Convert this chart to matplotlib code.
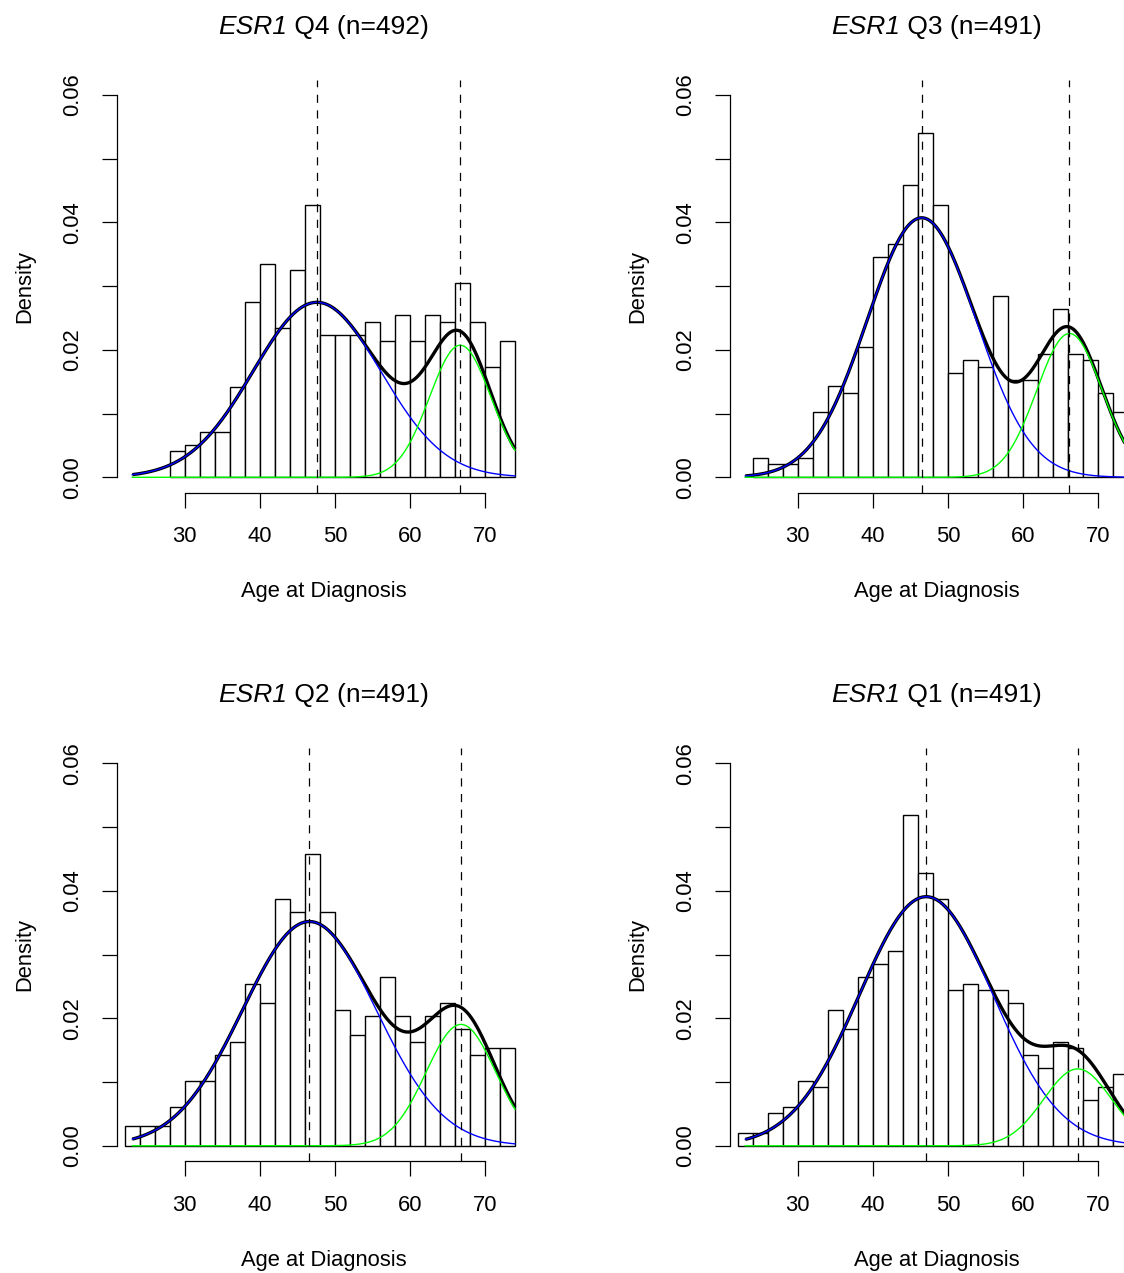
import matplotlib
matplotlib.use('Agg')
import matplotlib.pyplot as plt
from matplotlib.offsetbox import TextArea, HPacker, AnchoredOffsetbox
import numpy as np

plt.rcParams['font.family'] = ['Liberation Sans', 'DejaVu Sans']

# panel titles, in drawing order (top-left, top-right, bottom-left, bottom-right)
gene = 'ESR1'
quartiles = ['Q4', 'Q3', 'Q2', 'Q1']
sizes = [492, 491, 491, 491]

# histogram counts per 2-year bin, and the left edge of the first bin
q4_start = 28
q4_counts = [4, 5, 7, 7, 14, 27, 33, 23, 32, 42, 22, 22, 22, 24, 21, 25, 21, 25, 24, 30, 24, 17, 21]
q3_start = 24
q3_counts = [3, 2, 2, 3, 10, 14, 13, 20, 34, 36, 45, 53, 42, 16, 18, 17, 28, 15, 15, 19, 26, 19, 18, 13, 10]
q2_start = 22
q2_counts = [3, 3, 3, 6, 10, 10, 14, 16, 25, 22, 38, 36, 45, 36, 21, 17, 20, 26, 20, 16, 20, 22, 18, 14, 15, 15]
q1_start = 22
q1_counts = [2, 2, 5, 6, 10, 9, 21, 18, 26, 28, 30, 51, 42, 38, 24, 25, 24, 24, 22, 14, 12, 16, 15, 7, 9, 11]

# mixture components: weight, mean, sd  (early onset, late onset)
q4_early = (0.585, 47.6, 8.5)
q4_late = (0.213, 66.7, 4.1)
q3_early = (0.740, 46.5, 7.25)
q3_late = (0.246, 66.2, 4.35)
q2_early = (0.785, 46.6, 8.9)
q2_late = (0.222, 66.8, 4.65)
q1_early = (0.872, 47.1, 8.9)
q1_late = (0.137, 67.3, 4.53)

bin_width = 2
curve_range = (23, 74)
x_ticks = [30, 40, 50, 60, 70]
y_ticks = [0.00, 0.01, 0.02, 0.03, 0.04, 0.05, 0.06]

W, H = 1124, 1273
FS = 15.8


def component(x, comp):
    w, mu, sd = comp
    return w * np.exp(-0.5 * ((x - mu) / sd) ** 2) / (sd * np.sqrt(2 * np.pi))


def add_title(ax, quartile, n):
    # italic gene name followed by plain text, on a shared baseline
    t1 = TextArea(gene, textprops=dict(style='italic', fontsize=FS * 1.2))
    t2 = TextArea(' %s (n=%d)' % (quartile, n), textprops=dict(fontsize=FS * 1.2))
    box = HPacker(children=[t1, t2], align='baseline', pad=0, sep=0)
    anchored = AnchoredOffsetbox(loc='center', child=box, pad=0, borderpad=0,
                                 frameon=False, bbox_to_anchor=(0.5, 1 + 53 / 413),
                                 bbox_transform=ax.transAxes)
    ax.add_artist(anchored)


def draw_panel(fig, left_px, top_px, quartile, n, start, counts, early, late):
    ax = fig.add_axes([left_px / W, 1 - (top_px + 413) / H, 413.3 / W, 413 / H])
    edges = start + bin_width * np.arange(len(counts))
    dens = np.array(counts) / (n * bin_width)
    ax.bar(edges, dens, width=bin_width, align='edge', facecolor='white',
           edgecolor='black', linewidth=1.0, zorder=1)

    x = np.linspace(curve_range[0], curve_range[1], 500)
    y1 = component(x, early)
    y2 = component(x, late)
    ax.plot(x, y1 + y2, color='black', lw=2.4, zorder=2, solid_capstyle='butt')
    ax.plot(x, y1, color='#0000FF', lw=1.0, zorder=3)
    ax.plot(x, y2, color='#00FF00', lw=1.0, zorder=4)
    for comp in (early, late):
        ax.axvline(comp[1], color='black', lw=0.9, ls=(0, (6.5, 6)), zorder=5)

    ax.set_xlim(20.96, 76.04)
    ax.set_ylim(-0.0024, 0.0624)
    for s in ['top', 'right']:
        ax.spines[s].set_visible(False)
    ax.spines['bottom'].set_bounds(30, 70)
    ax.spines['left'].set_bounds(0, 0.06)
    ax.spines['bottom'].set_linewidth(0.9)
    ax.spines['left'].set_linewidth(0.9)
    ax.set_xticks(x_ticks)
    ax.set_yticks(y_ticks)
    ax.set_yticklabels(['0.00', '', '0.02', '', '0.04', '', '0.06'])
    ax.tick_params(direction='out', length=10.6, width=0.9, pad=13.5, labelsize=FS)
    ax.tick_params(axis='y', labelrotation=90)
    for lab in ax.get_yticklabels():
        lab.set_va('center')

    add_title(ax, quartile, n)
    ax.text(0.5, -99 / 413, 'Age at Diagnosis', transform=ax.transAxes,
            ha='center', va='center', fontsize=FS)
    ax.text(-92 / 413.3, 0.5, 'Density', transform=ax.transAxes, rotation=90,
            ha='center', va='center', fontsize=FS)
    return ax


def main():
    fig = plt.figure(figsize=(W / 100, H / 100), dpi=100)
    draw_panel(fig, 117, 79.6, quartiles[0], sizes[0], q4_start, q4_counts, q4_early, q4_late)
    draw_panel(fig, 730, 79.6, quartiles[1], sizes[1], q3_start, q3_counts, q3_early, q3_late)
    draw_panel(fig, 117, 748.1, quartiles[2], sizes[2], q2_start, q2_counts, q2_early, q2_late)
    draw_panel(fig, 730, 748.1, quartiles[3], sizes[3], q1_start, q1_counts, q1_early, q1_late)
    fig.savefig('out.png', dpi=100, facecolor='white')


if __name__ == '__main__':
    main()
